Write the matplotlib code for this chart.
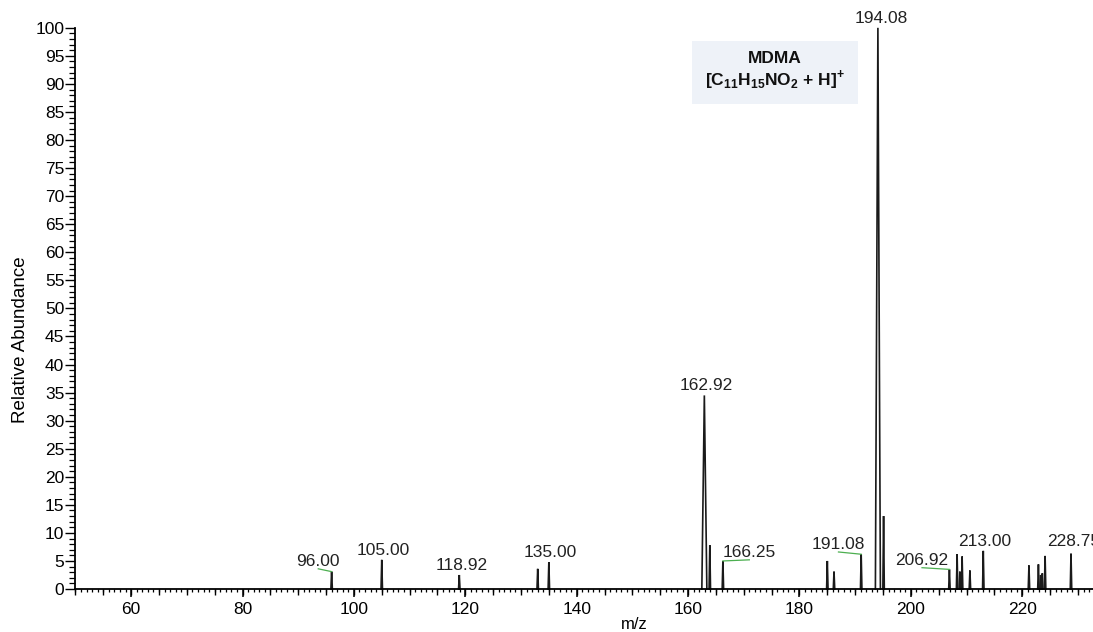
import matplotlib
matplotlib.use('Agg')
import matplotlib.pyplot as plt
from matplotlib.ticker import MultipleLocator

plt.rcParams['font.family'] = ['Liberation Sans', 'DejaVu Sans']
plt.rcParams['mathtext.fontset'] = 'custom'
plt.rcParams['mathtext.bf'] = 'Liberation Sans:bold'
plt.rcParams['mathtext.rm'] = 'Liberation Sans:bold'

# Peaks (m/z, relative abundance)
peak_mz = [96.00, 105.00, 118.92, 133.0, 135.00, 162.92, 163.9, 166.25,
           185.0, 186.2, 191.08, 194.08, 195.1, 206.92, 208.3, 208.8,
           209.2, 210.6, 213.00, 221.2, 222.9, 223.3, 223.6, 224.1, 228.75]
peak_int = [3.1, 5.2, 2.5, 3.6, 4.8, 34.5, 7.8, 5.0,
            5.0, 3.1, 6.2, 100.0, 13.0, 3.5, 6.2, 3.1,
            5.8, 3.3, 6.8, 4.2, 4.4, 2.5, 2.8, 5.9, 6.3]

# Peak labels
label_text = ["96.00", "105.00", "118.92", "135.00", "162.92", "166.25",
              "191.08", "194.08", "206.92", "213.00", "228.75"]
label_peak = [96.00, 105.00, 118.92, 135.00, 162.92, 166.25,
              191.08, 194.08, 206.92, 213.00, 228.75]
label_x = [93.6, 105.2, 119.3, 135.2, 163.2, 171.0,
           187.0, 194.6, 202.0, 213.2, 229.2]
label_y = [3.6, 5.5, 2.9, 5.2, 35.0, 5.2, 6.6, 100.4, 3.8, 7.1, 7.1]
# labels that are shifted off their peak get a green leader line
leader = [True, False, False, False, False, True,
          True, False, True, False, False]

fig = plt.figure(figsize=(10.93, 6.32), dpi=100)
ax = fig.add_axes([0.069, 0.068, 0.931, 0.888])

line_col = '#1a1a1a'
for mz, h in zip(peak_mz, peak_int):
    w = 0.45 if h > 20 else 0.13
    ax.plot([mz - w, mz, mz + w], [0, h, 0], color=line_col, lw=1.2,
            solid_joinstyle='miter', clip_on=False)

for txt, pk, x, y, ld in zip(label_text, label_peak, label_x, label_y, leader):
    ax.text(x, y, txt, ha='center', va='bottom', fontsize=12.5,
            color='#222222', clip_on=False)
    if ld:
        h = peak_int[peak_mz.index(pk)]
        ax.plot([x, pk], [y, h], color='#4caf50', lw=0.9, clip_on=False)

# compound annotation
ax.text(175.6, 92.3, 'MDMA\n' + r'[C$_{11}$H$_{15}$NO$_{2}$ + H]$^{+}$',
        ha='center', va='center', fontsize=12.5, fontweight='bold',
        linespacing=1.15, color='#111111',
        bbox=dict(boxstyle='square,pad=0.75', fc='#eef2f8', ec='none'))

ax.set_xlim(50, 232.7)
ax.set_ylim(0, 100)

for s in ['top', 'right']:
    ax.spines[s].set_visible(False)
ax.spines['left'].set_linewidth(1.3)
ax.spines['bottom'].set_linewidth(1.3)

ax.xaxis.set_major_locator(MultipleLocator(20))
ax.xaxis.set_minor_locator(MultipleLocator(1))
ax.yaxis.set_major_locator(MultipleLocator(5))
ax.yaxis.set_minor_locator(MultipleLocator(1))
ax.tick_params(axis='x', which='major', length=6, width=1.1, labelsize=12.5, pad=3)
ax.tick_params(axis='x', which='minor', length=2.5, width=0.9)
ax.tick_params(axis='y', which='major', length=7, width=1.0, labelsize=12.5, pad=1)
ax.tick_params(axis='y', which='minor', length=4, width=0.9)

# medium ticks every 5 on x
sec = ax.secondary_xaxis('bottom')
sec.xaxis.set_major_locator(MultipleLocator(5))
sec.tick_params(length=4, width=1.0, labelbottom=False)
sec.spines['bottom'].set_visible(False)

ax.set_ylabel('Relative Abundance', fontsize=13.5, labelpad=4)
ax.yaxis.set_label_coords(-0.046, 0.444)
ax.set_xlabel('m/z', fontsize=12)
ax.xaxis.set_label_coords(0.549, -0.05)

fig.savefig('out.png', dpi=100)
